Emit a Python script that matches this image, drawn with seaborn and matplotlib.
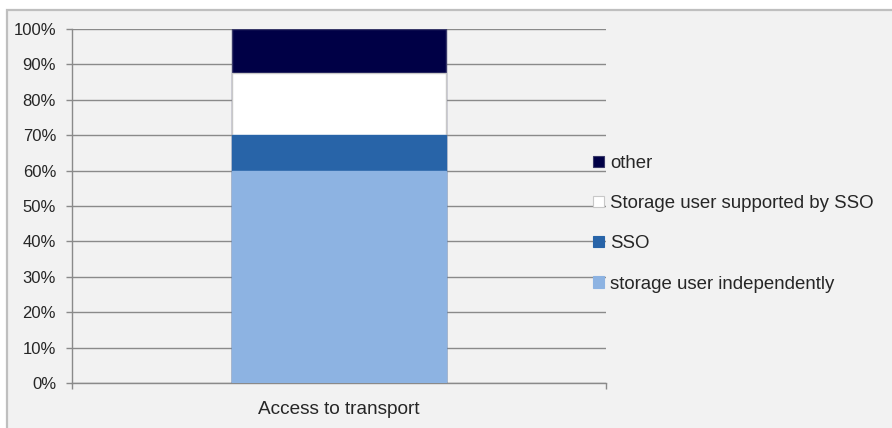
import numpy as np
import pandas as pd
import matplotlib
matplotlib.use("Agg")
import matplotlib.pyplot as plt
import seaborn as sns

# data (percent of answers)
category = ["Access to transport"]
series = ["storage user independently", "SSO", "Storage user supported by SSO", "other"]
values = [60.0, 10.0, 17.5, 12.5]
colors = ["#8db3e2", "#2864a8", "#ffffff", "#000046"]
edges = ["#8db3e2", "#2864a8", "#c8c8c8", "#3a3a6a"]
y_ticks = list(range(0, 101, 10))

sns.set_style("white")
plt.rcParams["font.family"] = ["Liberation Sans Narrow", "Liberation Sans", "DejaVu Sans"]
plt.rcParams["font.size"] = 12

bg = "#f2f2f2"
W, H = 892, 428
fig = plt.figure(figsize=(W / 100, H / 100), dpi=100)
fig.patch.set_facecolor("white")

# chart area panel: border only on top and left, runs off the right and bottom
panel = plt.Rectangle((7 / W, -0.1), 1.2, 1.1 - 9.5 / H, transform=fig.transFigure,
                      facecolor=bg, edgecolor="#bfbfbf", linewidth=1.6, zorder=-10)
fig.patches.append(panel)

ax = fig.add_axes([72 / W, 1 - 383 / H, (606 - 72) / W, (383 - 29) / H])
ax.set_facecolor(bg)

# stack by drawing cumulative totals, tallest first
df = pd.DataFrame({"cat": category * len(series), "series": series, "value": values})
df["cum"] = df["value"].cumsum()
for i in reversed(range(len(series))):
    row = df.iloc[[i]]
    sns.barplot(data=row, x="cat", y="cum", color=colors[i], width=0.4,
                edgecolor=edges[i], linewidth=1, saturation=1, ax=ax, zorder=3)

ax.set_xlim(-0.5, 0.5)
ax.set_ylim(0, 100)
ax.set_yticks(y_ticks)
ax.set_yticklabels([f"{t}%" for t in y_ticks])
ax.yaxis.grid(True, color="#8a8a8a", linewidth=1)
ax.set_axisbelow(True)
ax.set_xlabel("")
ax.set_ylabel("")
for s in ["top", "right"]:
    ax.spines[s].set_visible(False)
for s in ["left", "bottom"]:
    ax.spines[s].set_color("#8a8a8a")
    ax.spines[s].set_linewidth(1)
ax.tick_params(axis="y", left=True, length=4.5, width=1, color="#8a8a8a", pad=7,
               labelcolor="#262626", labelsize=12)
ax.tick_params(axis="x", bottom=False, length=0, pad=13, labelcolor="#262626", labelsize=13.7)
ax.set_xticks([-0.5, 0.5], minor=True)
ax.tick_params(axis="x", which="minor", bottom=True, length=4.5, width=1, color="#8a8a8a")

handles = [plt.Rectangle((0, 0), 1, 1, facecolor=colors[i], edgecolor=edges[i], linewidth=0.8)
           for i in reversed(range(len(series)))]
ax.legend(handles, list(reversed(series)), loc="upper left",
          bbox_to_anchor=(584 / W, 1 - 146 / H), bbox_transform=fig.transFigure,
          frameon=False, handlelength=0.55, handleheight=0.55, handletextpad=0.35,
          labelspacing=1.24, borderpad=0, fontsize=13.4, labelcolor="#262626")

fig.savefig("out.png", dpi=100, facecolor="white")
